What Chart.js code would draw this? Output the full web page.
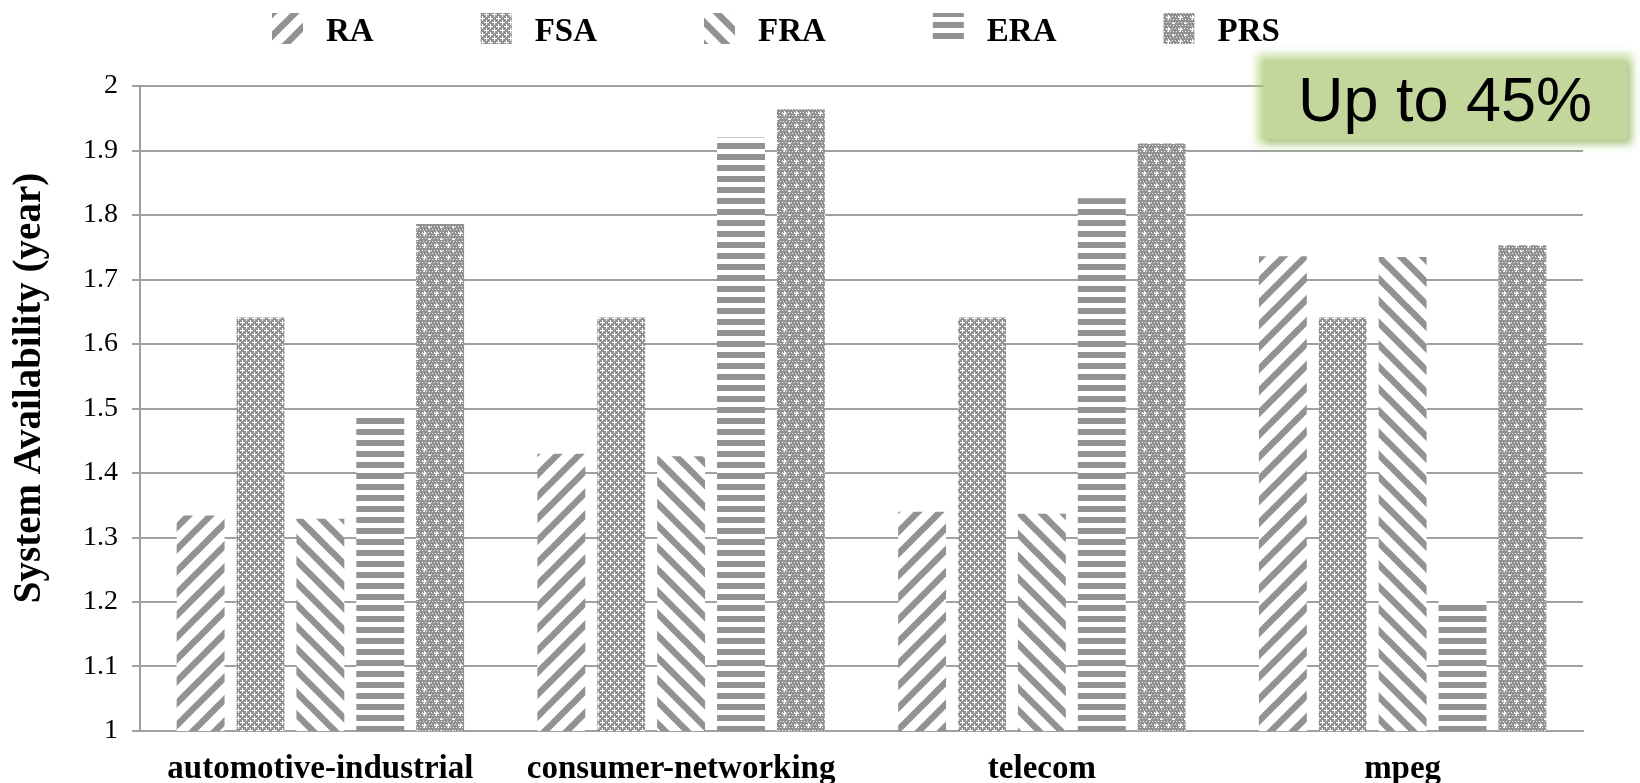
<!DOCTYPE html>
<html>
<head>
<meta charset="utf-8">
<script src="https://cdn.jsdelivr.net/npm/chart.js@4.4.1/dist/chart.umd.min.js"></script>
<style>
  html, body { margin: 0; padding: 0; background: #ffffff; }
  #wrap { position: relative; width: 1640px; height: 783px; overflow: hidden; }
  canvas { display: block; }
  #callout {
    position: absolute; left: 1263px; top: 60px; width: 364px; height: 79px;
    background: #c3d69b;
    box-shadow: 0 0 9px 5px rgba(170, 202, 110, 0.75), 3px 4px 6px rgba(0, 0, 0, 0.22);
    font-family: "Liberation Sans", Arial, sans-serif; font-size: 63px; line-height: 79px;
    text-align: center; color: #000000;
  }
</style>
</head>
<body>
<div id="wrap">
  <canvas id="chart" width="1640" height="783"></canvas>
  <div id="callout">Up to 45%</div>
</div>
<script>
// Benchmarks on the x axis
const categories = ['automotive-industrial', 'consumer-networking', 'telecom', 'mpeg'];
// Techniques compared
const seriesNames = ['RA', 'FSA', 'FRA', 'ERA', 'PRS'];
// System availability in years, per benchmark
const raValues  = [1.334, 1.430, 1.340, 1.736];
const fsaValues = [1.641, 1.641, 1.641, 1.641];
const fraValues = [1.329, 1.426, 1.337, 1.735];
const eraValues = [1.488, 1.920, 1.826, 1.202];
const prsValues = [1.786, 1.964, 1.911, 1.753];
// Value axis labels
const yTickLabels = ['1', '1.1', '1.2', '1.3', '1.4', '1.5', '1.6', '1.7', '1.8', '1.9', '2'];
const yAxisTitle = 'System Availability (year)';

const GREY = '#929292';
const SERIF = '"Liberation Serif", "Times New Roman", serif';

function tile(w, h, paint) {
  const c = document.createElement('canvas');
  c.width = w; c.height = h;
  const g = c.getContext('2d');
  g.fillStyle = '#ffffff';
  g.fillRect(0, 0, w, h);
  paint(g, w, h);
  return document.createElement('canvas').getContext('2d').createPattern(c, 'repeat');
}

// wide upward diagonal
function upDiagonal() {
  return tile(22, 22, (g, s) => {
    g.strokeStyle = GREY; g.lineWidth = 6.5; g.lineCap = 'square';
    for (let k = -1; k <= 1; k++) {
      g.beginPath(); g.moveTo(k * s, s); g.lineTo(k * s + s, 0); g.stroke();
    }
  });
}
// wide downward diagonal
function downDiagonal() {
  return tile(22, 22, (g, s) => {
    g.strokeStyle = GREY; g.lineWidth = 6.5; g.lineCap = 'square';
    for (let k = -1; k <= 1; k++) {
      g.beginPath(); g.moveTo(k * s, 0); g.lineTo(k * s + s, s); g.stroke();
    }
  });
}
// horizontal bands
function horizontalBands() {
  return tile(8, 11, (g, w) => {
    g.fillStyle = GREY; g.fillRect(0, 0, w, 6);
  });
}
// grey with white crosses
function crossTexture() {
  return tile(8, 8, (g, w, h) => {
    g.fillStyle = GREY; g.fillRect(0, 0, w, h);
    g.fillStyle = '#ffffff';
    g.fillRect(2, 0, 1, 5); g.fillRect(0, 2, 5, 1);
    g.fillRect(6, 4, 1, 5); g.fillRect(4, 6, 5, 1);
    g.fillRect(6, 0, 1, 1); g.fillRect(0, 6, 1, 1);
  });
}
// grey with fine white dots and sparse crosses
function dottedTexture() {
  return tile(12, 12, (g, w, h) => {
    g.fillStyle = GREY; g.fillRect(0, 0, w, h);
    g.fillStyle = 'rgba(255,255,255,0.85)';
    for (let y = 1; y < h; y += 3) {
      for (let x = ((y - 1) / 3) % 2 ? 2 : 0; x < w; x += 3) g.fillRect(x, y, 1, 1);
    }
    g.fillStyle = '#ffffff';
    g.fillRect(2, 5, 5, 1); g.fillRect(4, 3, 1, 5);
    g.fillRect(8, 11, 3, 1); g.fillRect(9, 10, 1, 3);
  });
}

const fills = [upDiagonal(), crossTexture(), downDiagonal(), horizontalBands(), dottedTexture()];
const seriesValues = [raValues, fsaValues, fraValues, eraValues, prsValues];

// Legend row across the top
const topLegend = {
  id: 'topLegend',
  afterDraw(chart) {
    const ctx = chart.ctx;
    ctx.save();
    ctx.font = 'bold 33px ' + SERIF;
    ctx.textBaseline = 'alphabetic';
    ctx.textAlign = 'left';
    let x = 272;
    seriesNames.forEach((name, i) => {
      ctx.fillStyle = fills[i];
      ctx.fillRect(x, 13, 31, 31);
      ctx.fillStyle = '#000000';
      const tx = x + 31 + 23;
      ctx.fillText(name, tx, 41);
      x = tx + ctx.measureText(name).width + 107;
    });
    ctx.restore();
  }
};

// Rotated value-axis title
const sideTitle = {
  id: 'sideTitle',
  afterDraw(chart) {
    const ctx = chart.ctx;
    ctx.save();
    ctx.translate(30, 388);
    ctx.rotate(-Math.PI / 2);
    ctx.font = 'bold 39px ' + SERIF;
    ctx.fillStyle = '#000000';
    ctx.textAlign = 'center';
    ctx.textBaseline = 'middle';
    ctx.fillText(yAxisTitle, 0, 0);
    ctx.restore();
  }
};

new Chart(document.getElementById('chart'), {
  type: 'bar',
  data: {
    labels: categories,
    datasets: seriesNames.map((name, i) => ({
      label: name,
      data: seriesValues[i],
      backgroundColor: fills[i],
      borderWidth: 0,
      categoryPercentage: 0.83,
      barPercentage: 0.8
    }))
  },
  options: {
    responsive: false,
    animation: false,
    devicePixelRatio: 1,
    layout: { padding: { top: 86, right: 57, bottom: 0, left: 0 } },
    plugins: {
      legend: { display: false },
      tooltip: { enabled: false }
    },
    scales: {
      x: {
        grid: { display: false },
        border: { display: true, color: '#a0a0a0', width: 2 },
        ticks: {
          color: '#000000',
          font: { family: SERIF, size: 33, weight: 'bold' },
          padding: 11,
          maxRotation: 0
        },
        afterFit(scale) { scale.height = 52; }
      },
      y: {
        min: 1,
        max: 2,
        grid: { color: '#a0a0a0', lineWidth: 2, tickLength: 8, drawTicks: true },
        border: { display: true, color: '#a0a0a0', width: 2 },
        ticks: {
          stepSize: 0.1,
          color: '#000000',
          font: { family: SERIF, size: 28 },
          padding: 14,
          callback: (v, i) => yTickLabels[i]
        },
        afterFit(scale) { scale.width = 140; }
      }
    }
  },
  plugins: [topLegend, sideTitle]
});
</script>
</body>
</html>
